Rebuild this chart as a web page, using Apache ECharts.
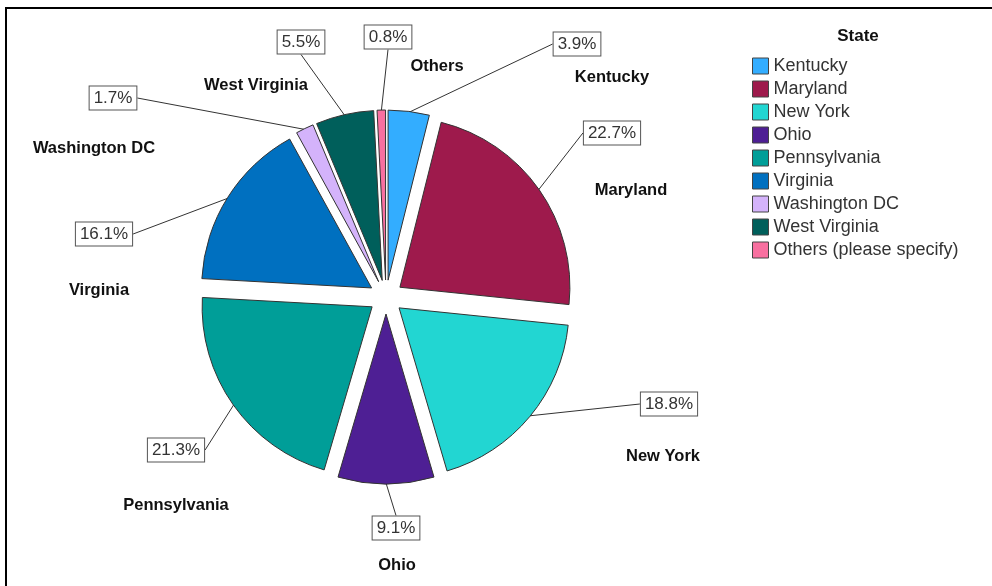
<!DOCTYPE html>
<html><head><meta charset="utf-8">
<script src="https://cdn.jsdelivr.net/npm/echarts@6/dist/echarts.min.js"></script>
<style>html,body{margin:0;padding:0;background:#fff}#c{width:992px;height:586px}</style>
</head><body><div id="c"></div>
<script>
const states = ['Kentucky','Maryland','New York','Ohio','Pennsylvania','Virginia','Washington DC','West Virginia','Others (please specify)'];
const sliceNames = ['Kentucky','Maryland','New York','Ohio','Pennsylvania','Virginia','Washington DC','West Virginia','Others'];
const percents = [3.9,22.7,18.8,9.1,21.3,16.1,1.7,5.5,0.8];
const colors = ['#33adff','#9e1a4c','#22d6d2','#4e1f94','#009e98','#0070c0','#d4b3fb','#005f5b','#f870a0'];
// label placement (centres, px)
const pctLabelPos = [[577,44],[612,133],[669,404],[396,528],[176,450],[104,234],[113,98],[301,42],[388,37]];
const nameLabelPos = [[612,77],[631,190],[663,456],[397,565],[176,505],[99,290],[94,148],[256,85],[437,66]];

const chart = echarts.init(document.getElementById('c'), null, {renderer:'canvas'});
const mainData = states.map((s,i)=>({name:s, value:percents[i], selected:true, itemStyle:{color:colors[i]}}));
const plainData = states.map((s,i)=>({name:s, value:percents[i]}));
const ghost = {type:'pie', center:[386,297], startAngle:90, clockwise:true, silent:true,
  avoidLabelOverlap:false, emphasis:{disabled:true},
  itemStyle:{color:'transparent', borderWidth:0}, data:plainData};
chart.setOption({
  animation:false,
  backgroundColor:'#fff',
  title:{text:'State', left:853, top:23, textAlign:'center',
    textStyle:{fontFamily:'Liberation Sans', fontWeight:'bold', fontSize:17, color:'#111'}},
  legend:{orient:'vertical', left:747, top:52, itemWidth:16, itemHeight:16, itemGap:5,
    icon:'rect', selectedMode:false, data:states,
    itemStyle:{borderColor:'#444', borderWidth:1},
    textStyle:{fontFamily:'Liberation Sans', fontSize:18, lineHeight:18, color:'#333'}},
  graphic:[{type:'rect', shape:{x:6, y:8, width:1000, height:600}, style:{fill:null, stroke:'#000', lineWidth:2}, silent:true}],
  series:[
    {type:'pie', center:[386,297], radius:170, startAngle:90, clockwise:true,
     selectedMode:'multiple', selectedOffset:17, avoidLabelOverlap:false,
     emphasis:{disabled:true},
     itemStyle:{borderColor:'#333', borderWidth:1},
     data:mainData, label:{show:false}, labelLine:{show:false}},
    Object.assign({}, ghost, {radius:186,
     label:{show:true, position:'outside', formatter:p=>p.value.toFixed(1)+'%',
       fontFamily:'Liberation Sans', fontSize:17, color:'#333',
       backgroundColor:'#fff', borderColor:'#555', borderWidth:1, padding:[4,4,2,4]},
     labelLine:{show:true, length:15, length2:0, lineStyle:{color:'#333', width:1}},
     labelLayout:p=>({x:pctLabelPos[p.dataIndex][0], y:pctLabelPos[p.dataIndex][1], align:'center', verticalAlign:'middle'})
    }),
    Object.assign({}, ghost, {radius:170,
     label:{show:true, position:'outside', formatter:p=>sliceNames[p.dataIndex],
       fontFamily:'Liberation Sans', fontWeight:'bold', fontSize:16.5, color:'#111'},
     labelLine:{show:false},
     labelLayout:p=>({x:nameLabelPos[p.dataIndex][0], y:nameLabelPos[p.dataIndex][1], align:'center', verticalAlign:'middle'})
    })
  ]
});
</script></body></html>
